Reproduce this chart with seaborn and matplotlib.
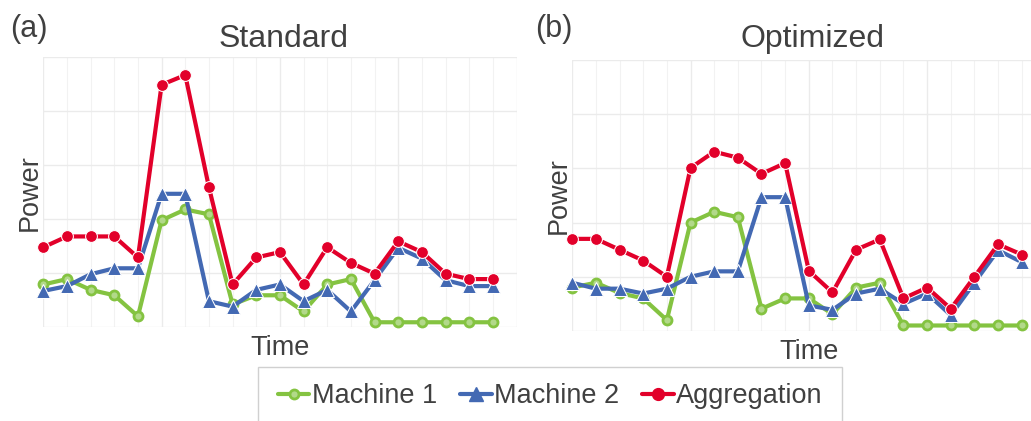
import pandas as pd
import matplotlib.pyplot as plt
from matplotlib.lines import Line2D
from matplotlib.patches import Rectangle
from matplotlib.ticker import MultipleLocator
import seaborn as sns

sns.set_theme(style='whitegrid')
plt.rcParams['font.family'] = ['Liberation Sans', 'DejaVu Sans']

# time steps
t = list(range(20))

# (a) standard schedule
std_m1 = [0.79, 0.89, 0.69, 0.59, 0.20, 1.98, 2.18, 2.09, 0.42, 0.59,
          0.59, 0.29, 0.79, 0.89, 0.09, 0.09, 0.09, 0.09, 0.09, 0.09]
std_m2 = [0.67, 0.76, 0.98, 1.09, 1.09, 2.47, 2.47, 0.48, 0.38, 0.69,
          0.79, 0.48, 0.69, 0.29, 0.87, 1.47, 1.27, 0.87, 0.76, 0.76]
std_agg = [1.48, 1.68, 1.68, 1.68, 1.29, 4.49, 4.67, 2.59, 0.79, 1.29,
           1.39, 0.79, 1.48, 1.19, 0.99, 1.59, 1.39, 0.99, 0.89, 0.89]

# (b) optimized schedule
opt_m1 = [0.80, 0.89, 0.70, 0.60, 0.20, 2.00, 2.20, 2.10, 0.41, 0.60,
          0.60, 0.31, 0.80, 0.89, 0.10, 0.10, 0.10, 0.10, 0.10, 0.10]
opt_m2 = [0.89, 0.78, 0.78, 0.69, 0.78, 1.00, 1.10, 1.10, 2.47, 2.47,
          0.47, 0.39, 0.69, 0.78, 0.50, 0.69, 0.29, 0.89, 1.49, 1.27]
opt_agg = [1.70, 1.70, 1.50, 1.30, 1.00, 3.01, 3.31, 3.20, 2.90, 3.10,
           1.11, 0.71, 1.50, 1.69, 0.60, 0.80, 0.41, 1.00, 1.60, 1.41]

names = ['Machine 1', 'Machine 2', 'Aggregation']
green, blue, red = '#84c341', '#4369b3', '#e2002a'
styles = {
    'Machine 1': dict(color=green, marker='o', markersize=6.5, markerfacecolor='#b2d98a',
                      markeredgecolor=green, markeredgewidth=2.0, linewidth=3.0),
    'Machine 2': dict(color=blue, marker='^', markersize=9.5, linewidth=3.0),
    'Aggregation': dict(color=red, marker='o', markersize=8.5, linewidth=3.0),
}
txt = '#404040'

fig = plt.figure(figsize=(10.31, 4.21), dpi=100)
ax_a = fig.add_axes([0.042, 0.223, 0.459, 0.641])
ax_b = fig.add_axes([0.555, 0.214, 0.459, 0.643])

panels = [
    (ax_a, 'Standard', '(a)', [std_m1, std_m2, std_agg], 0.275, 0.010),
    (ax_b, 'Optimized', '(b)', [opt_m1, opt_m2, opt_agg], 0.788, 0.519),
]

for ax, title, tag, series, tx, gx in panels:
    for name, vals in zip(names, series):
        df = pd.DataFrame({'Time': t, 'Power': vals})
        sns.lineplot(data=df, x='Time', y='Power', ax=ax, clip_on=False, **styles[name])
    ax.set_xlim(0, 20)
    ax.set_ylim(0, 5)
    ax.xaxis.set_major_locator(MultipleLocator(5))
    ax.xaxis.set_minor_locator(MultipleLocator(1))
    ax.yaxis.set_major_locator(MultipleLocator(1))
    ax.grid(which='major', color='#ebebeb', linewidth=1.0)
    ax.grid(which='minor', axis='x', color='#f2f2f2', linewidth=0.8)
    ax.tick_params(which='both', length=0, pad=0, labelbottom=False, labelleft=False)
    for s in ax.spines.values():
        s.set_visible(False)
    ax.set_facecolor('white')
    ax.set_xlabel('Time', fontsize=19.5, color=txt, labelpad=6)
    ax.set_ylabel('Power', fontsize=19.5, color=txt, labelpad=0.5)
    fig.text(tx, 1 - 47 / 421, title, fontsize=23, color=txt, ha='center', va='baseline')
    fig.text(gx, 1 - 37 / 421, tag, fontsize=22, color=txt, ha='left', va='baseline')

# legend box, running off the bottom edge
fig.patches.append(Rectangle((258 / 1031, -0.05), 584 / 1031, 0.05 + 54 / 421,
                             transform=fig.transFigure, facecolor='white',
                             edgecolor='#d0d0d0', linewidth=1.0))

handles = [Line2D([], [], **styles[n]) for n in names]
fig.legend(handles, names, loc='center', bbox_to_anchor=(0.534, 1 - 396 / 421),
           ncol=3, fontsize=19.5, frameon=False,
           handlelength=1.15, handletextpad=0.1, columnspacing=0.85,
           borderpad=0.0, labelcolor=txt)

fig.savefig('out.png', dpi=100)
